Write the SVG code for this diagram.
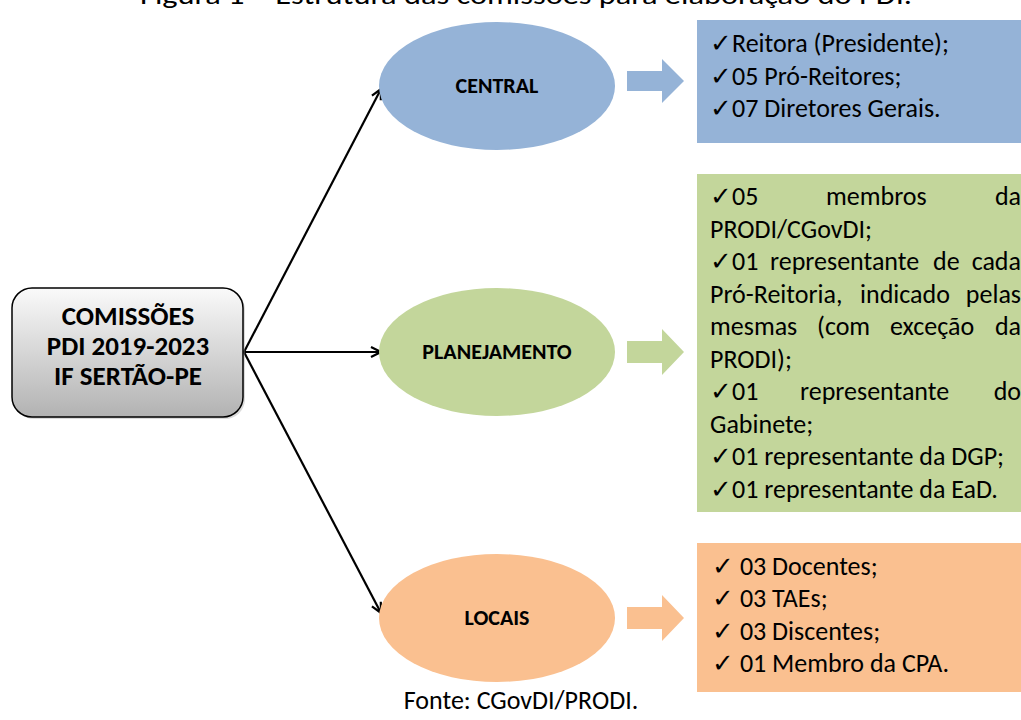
<svg xmlns="http://www.w3.org/2000/svg" width="1021" height="720" viewBox="0 0 1021 720">
<style>
text{font-family:Carlito,Lato,"Liberation Sans",sans-serif;fill:#000}
.t{font-size:26px}
.b{font-size:27px;font-weight:bold;text-anchor:middle}
.e{font-size:22px;font-weight:bold;text-anchor:middle}
.r{text-anchor:end}
.conn{stroke:#000;stroke-width:2.2;fill:none}
</style>
<defs>
<linearGradient id="g" x1="0" y1="0" x2="0" y2="1">
<stop offset="0" stop-color="#fafafa"/>
<stop offset="1" stop-color="#b2b2b2"/>
</linearGradient>
<marker id="ah" viewBox="0 0 12 12" refX="11" refY="6" markerWidth="12" markerHeight="12" markerUnits="userSpaceOnUse" orient="auto">
<path d="M1,1 L11,6 L1,11" fill="none" stroke="#000" stroke-width="2.2"/>
</marker>
</defs>
<rect width="1021" height="720" fill="#fff"/>
<text class="t" x="526" y="4" text-anchor="middle" textLength="772" lengthAdjust="spacingAndGlyphs">Figura 1 – Estrutura das comissões para elaboração do PDI.</text>

<g id="connectors">
<line class="conn" x1="244" y1="352" x2="381" y2="89" marker-end="url(#ah)"/>
<line class="conn" x1="244" y1="352" x2="381" y2="352" marker-end="url(#ah)"/>
<line class="conn" x1="244" y1="352" x2="381" y2="613" marker-end="url(#ah)"/>
</g>

<g id="root">
<rect x="14" y="290" width="231" height="129" rx="20" fill="#999" opacity="0.35"/>
<rect x="12" y="288" width="231" height="129" rx="20" fill="url(#g)" stroke="#000" stroke-width="1.5"/>
<text class="b" x="128" y="325">COMISSÕES</text>
<text class="b" x="128" y="355">PDI 2019-2023</text>
<text class="b" x="128" y="385">IF SERTÃO-PE</text>
</g>

<g id="central">
<ellipse cx="497" cy="86" rx="118" ry="64" fill="#95b3d7"/>
<text class="e" x="497" y="93">CENTRAL</text>
<path d="M627,71 H662 V59 L684,81 L662,103 V91 H627 Z" fill="#95b3d7"/>
<rect x="697" y="20" width="324" height="123" fill="#95b3d7"/>
<text class="t" x="710" y="52">✓Reitora (Presidente);</text>
<text class="t" x="710" y="85">✓05 Pró-Reitores;</text>
<text class="t" x="710" y="117">✓07 Diretores Gerais.</text>
</g>

<g id="planejamento">
<ellipse cx="497" cy="352" rx="118" ry="64" fill="#c3d69b"/>
<text class="e" x="497" y="359">PLANEJAMENTO</text>
<path d="M627,341 H662 V329 L684,352 L662,375 V363 H627 Z" fill="#c3d69b"/>
<rect x="697" y="174" width="324" height="338" fill="#c3d69b"/>
<text class="t" x="710" y="205">✓05</text>
<text class="t" x="826" y="205">membros</text>
<text class="t r" x="1021" y="205">da</text>
<text class="t" x="710" y="237.5">PRODI/CGovDI;</text>
<text class="t" x="710" y="270">✓01</text>
<text class="t" x="770" y="270">representante</text>
<text class="t" x="933" y="270">de</text>
<text class="t r" x="1021" y="270">cada</text>
<text class="t" x="710" y="302.5">Pró-Reitoria,</text>
<text class="t" x="860" y="302.5">indicado</text>
<text class="t r" x="1021" y="302.5">pelas</text>
<text class="t" x="710" y="335">mesmas</text>
<text class="t" x="817" y="335">(com</text>
<text class="t" x="890" y="335">exceção</text>
<text class="t r" x="1021" y="335">da</text>
<text class="t" x="710" y="367.5">PRODI);</text>
<text class="t" x="710" y="400">✓01</text>
<text class="t" x="800" y="400">representante</text>
<text class="t r" x="1021" y="400">do</text>
<text class="t" x="710" y="432.5">Gabinete;</text>
<text class="t" x="710" y="465">✓01 representante da DGP;</text>
<text class="t" x="710" y="497.5">✓01 representante da EaD.</text>
</g>

<g id="locais">
<ellipse cx="497" cy="618" rx="118" ry="64" fill="#fac090"/>
<text class="e" x="497" y="625">LOCAIS</text>
<path d="M627,607 H662 V595 L684,618 L662,641 V629 H627 Z" fill="#fac090"/>
<rect x="697" y="543" width="324" height="149" fill="#fac090"/>
<text class="t" x="712" y="575">✓ 03 Docentes;</text>
<text class="t" x="712" y="607">✓ 03 TAEs;</text>
<text class="t" x="712" y="640">✓ 03 Discentes;</text>
<text class="t" x="712" y="672">✓ 01 Membro da CPA.</text>
</g>

<text class="t" x="521" y="709" text-anchor="middle">Fonte: CGovDI/PRODI.</text>
</svg>
